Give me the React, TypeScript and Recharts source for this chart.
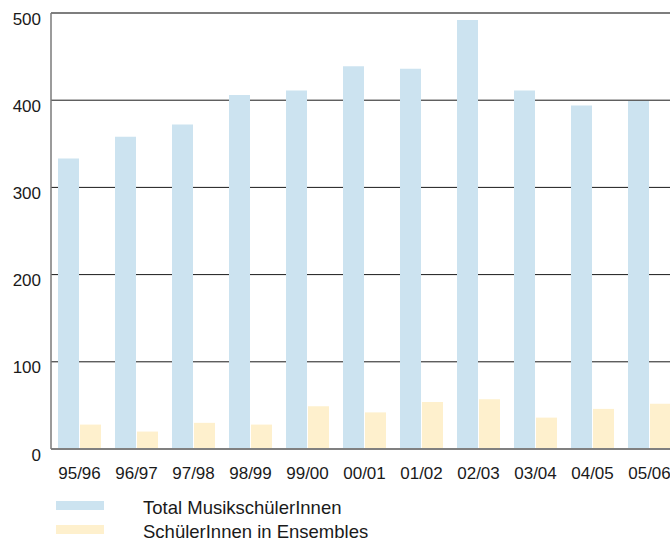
import { BarChart, Bar, XAxis, YAxis, CartesianGrid, ReferenceLine } from 'recharts';

const categories = ['95/96', '96/97', '97/98', '98/99', '99/00', '00/01', '01/02', '02/03', '03/04', '04/05', '05/06'];
const totalValues = [333, 358, 372, 406, 411, 439, 436, 492, 411, 394, 399];
const ensembleValues = [28, 20, 30, 28, 49, 42, 54, 57, 36, 46, 52];
const yTicks = [0, 100, 200, 300, 400, 500];

const seriesNames = ['Total MusikschülerInnen', 'SchülerInnen in Ensembles'];
const BLUE = '#cce3f0';
const YELLOW = '#fef0cd';
const TEXT = '#1a1a1a';
const FONT = '"Liberation Sans", Arial, Helvetica, sans-serif';

// the picture runs to the window edges, so drop the default body margin
if (typeof document !== 'undefined') {
  document.body.style.margin = '0';
}

const data = categories.map((c, i) => ({
  name: c,
  total: totalValues[i],
  ensembles: ensembleValues[i],
}));

function YTick(props: any) {
  const { x, y, payload } = props;
  return (
    <text x={x - 10} y={y + 6} textAnchor="end" dominantBaseline="central" fill={TEXT} fontSize={17} fontFamily={FONT}>
      {payload.value}
    </text>
  );
}

function XTick(props: any) {
  const { x, y, payload } = props;
  return (
    <text x={x} y={y + 24} textAnchor="middle" dominantBaseline="central" fill={TEXT} fontSize={17} fontFamily={FONT}>
      {payload.value}
    </text>
  );
}

export default function App() {
  return (
    <div style={{ position: 'relative', width: 670, height: 541, overflow: 'hidden', fontFamily: FONT, background: '#fff' }}>
      <div style={{ position: 'absolute', left: 0, top: 8 }}>
        <BarChart
          width={678}
          height={490}
          data={data}
          margin={{ top: 5, right: 0, bottom: 20, left: 8 }}
          barCategoryGap={7}
          barGap={1}
          barSize={21}
        >
          <CartesianGrid vertical={false} stroke="#1a1a1a" strokeWidth={1} />
          <ReferenceLine y={500} stroke="#7a7a7a" strokeWidth={1.5} />
          <XAxis
            dataKey="name"
            height={29}
            tickLine={false}
            tickSize={0}
            tickMargin={0}
            interval={0}
            axisLine={{ stroke: '#808080', strokeWidth: 2 }}
            tick={<XTick />}
          />
          <YAxis
            width={43}
            domain={[0, 500]}
            ticks={yTicks}
            interval={0}
            tickLine={false}
            tickSize={0}
            tickMargin={0}
            axisLine={{ stroke: '#7a7a7a', strokeWidth: 1.5 }}
            tick={<YTick />}
          />
          <Bar dataKey="total" name={seriesNames[0]} fill={BLUE} isAnimationActive={false} />
          <Bar dataKey="ensembles" name={seriesNames[1]} fill={YELLOW} isAnimationActive={false} />
        </BarChart>
      </div>
      <div style={{ position: 'absolute', left: 56, top: 501, width: 48, height: 9, background: BLUE }} />
      <div style={{ position: 'absolute', left: 56, top: 525, width: 48, height: 9, background: YELLOW }} />
      <div style={{ position: 'absolute', left: 143, top: 498, lineHeight: '20px', fontSize: 18.5, color: TEXT, whiteSpace: 'nowrap' }}>
        {seriesNames[0]}
      </div>
      <div style={{ position: 'absolute', left: 143, top: 523, lineHeight: '18px', fontSize: 18.5, color: TEXT, whiteSpace: 'nowrap' }}>
        {seriesNames[1]}
      </div>
    </div>
  );
}
